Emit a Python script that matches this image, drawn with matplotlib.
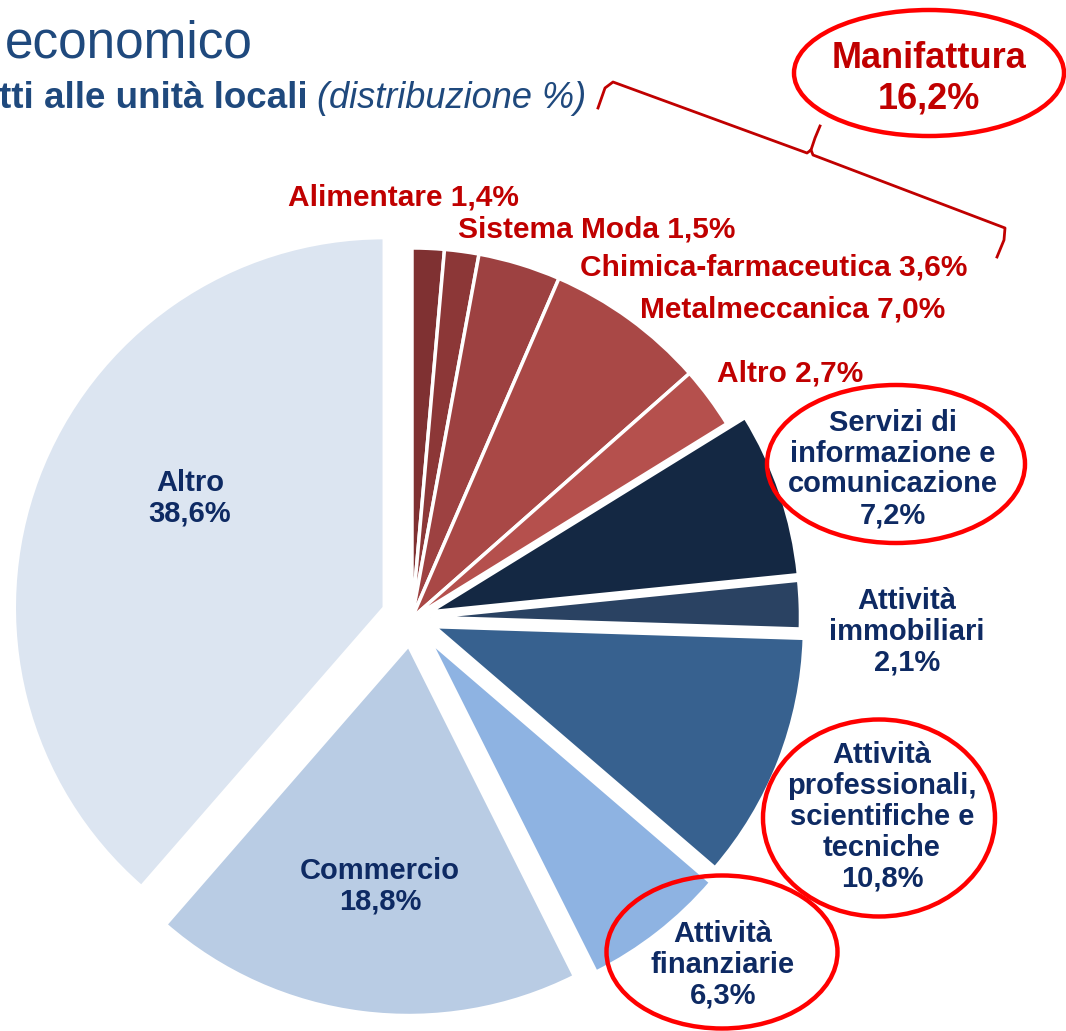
import matplotlib
matplotlib.use('Agg')
import matplotlib.pyplot as plt
from matplotlib.patches import Ellipse

# ---------------- data ----------------
categories = ["Alimentare", "Sistema Moda", "Chimica-farmaceutica", "Metalmeccanica", "Altro",
              "Servizi di informazione e comunicazione", "Attività immobiliari",
              "Attività professionali, scientifiche e tecniche", "Attività finanziarie",
              "Commercio", "Altro"]
values = [1.4, 1.5, 3.6, 7.0, 2.7, 7.2, 2.1, 10.8, 6.3, 18.8, 38.6]
manifattura_label = "Manifattura"
manifattura_total = 16.2
title_text = "economico"
subtitle_bold = "tti alle unità locali"
subtitle_italic = "(distribuzione %)"

colors = ["#7F3132", "#8C3737", "#9D4141", "#A94846", "#B5504D",
          "#142843", "#2A4262", "#37618F", "#8EB3E2", "#B9CCE4", "#DCE5F1"]
explode_frac = [0.0, 0.0, 0.0, 0.0, 0.0, 0.052, 0.05, 0.065, 0.08, 0.075, 0.08]

W, H = 1066, 1031
R = 370
FONT = ['Liberation Sans', 'DejaVu Sans']
NAVY = '#0E2A63'
DRED = '#C00000'
ERED = '#FF0000'
TBLUE = '#1F497D'


def fmt(v):
    return f"{v:.1f}".replace('.', ',') + '%'


def Y(y):
    return H - y


fig = plt.figure(figsize=(W / 100, H / 100), dpi=100)
ax = fig.add_axes([0, 0, 1, 1])

ax.pie(values, colors=colors, explode=[e * R for e in explode_frac], startangle=90,
       counterclock=False, center=(412, Y(618)), radius=R,
       wedgeprops=dict(edgecolor='white', linewidth=2.5))
ax.set_xlim(0, W)
ax.set_ylim(0, H)
ax.set_aspect('equal')
ax.axis('off')

# ---------------- titles ----------------
ax.text(5, Y(57), title_text, fontsize=37, color=TBLUE, family=FONT,
        ha='left', va='baseline')
ax.text(-1, Y(108), subtitle_bold, fontsize=26.5, color=TBLUE, family=FONT,
        fontweight='bold', ha='left', va='baseline')
ax.text(586, Y(108), subtitle_italic, fontsize=26, color=TBLUE, family=FONT,
        style='italic', ha='right', va='baseline')

# ---------------- red manifattura labels ----------------
red_pos = [(288, 197), (458, 229), (580, 267), (640, 309), (717, 373)]
for (x, y), cat, v in zip(red_pos, categories[:5], values[:5]):
    ax.text(x, Y(y), f"{cat} {fmt(v)}", fontsize=21.5, color=DRED, family=FONT,
            fontweight='bold', ha='left', va='center')

# Manifattura bubble
ax.add_patch(Ellipse((929, Y(73)), 270, 126, fill=False, edgecolor=ERED, lw=3.2, zorder=5))
ax.text(929, Y(79), f"{manifattura_label}\n{fmt(manifattura_total)}", fontsize=26,
        color=DRED, family=FONT, fontweight='bold', ha='center', va='center',
        linespacing=1.2)

# brace
b1 = [(598, 108), (605, 88), (613, 82), (807, 153), (811, 150), (815, 138), (820, 126)]
b2 = [(811, 150), (813, 155), (1005, 228), (1004, 240), (997, 257)]
for b in (b1, b2):
    ax.plot([p[0] for p in b], [Y(p[1]) for p in b], color=DRED, lw=2.0,
            solid_joinstyle='round', zorder=5)

# ---------------- navy labels ----------------
navy_labels = [
    ("Servizi di\ninformazione e\ncomunicazione\n" + fmt(values[5]), 893, 469),
    ("Attività\nimmobiliari\n" + fmt(values[6]), 907, 632),
    ("Attività\nprofessionali,\nscientifiche e\ntecniche\n" + fmt(values[7]), 882, 817),
    ("Attività\nfinanziarie\n" + fmt(values[8]), 723, 965),
    ("Commercio\n" + fmt(values[9]), 380, 886),
    ("Altro\n" + fmt(values[10]), 190, 498),
]
for txt, x, y in navy_labels:
    ax.text(x, Y(y), txt, fontsize=21, color=NAVY, family=FONT, fontweight='bold',
            ha='center', va='center', linespacing=1.13, zorder=6)

# ellipses
for cx, cy, w, h in [(896, 464, 258, 158), (879, 818, 232, 197), (722, 952, 231, 153)]:
    ax.add_patch(Ellipse((cx, Y(cy)), w, h, fill=False, edgecolor=ERED, lw=3.2, zorder=5))

fig.savefig('out.png', dpi=100)
